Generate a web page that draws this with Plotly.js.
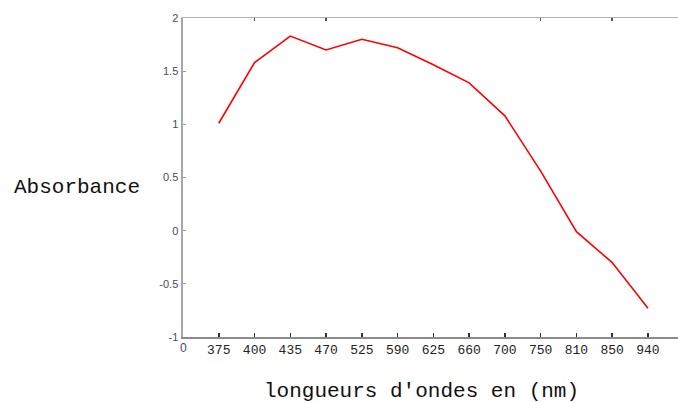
<!DOCTYPE html>
<html>
<head>
<meta charset="utf-8">
<script src="https://cdn.plot.ly/plotly-3.0.1.min.js"></script>
<style>
  html, body { margin: 0; padding: 0; background: #fff; }
  #chart { width: 678px; height: 403px; }
</style>
</head>
<body>
<div id="chart"></div>
<script>
// Absorbance spectrum, one value per wavelength band
const wavelengths = ['375', '400', '435', '470', '525', '590', '625', '660', '700', '750', '810', '850', '940'];
const absorbance  = [1.01, 1.58, 1.83, 1.70, 1.80, 1.72, 1.56, 1.39, 1.08, 0.56, -0.01, -0.30, -0.73];
const yTicks = [-1, -0.5, 0, 0.5, 1, 1.5, 2];
const yTickText = ['-1', '-0.5', '0', '0.5', '1', '1.5', '2'];

// wavelengths are plotted at evenly spaced positions 1..N
const positions = wavelengths.map((_, i) => i + 1);

const mono = 'Liberation Mono, Courier New, monospace';
const sans = 'Liberation Sans, Arial, sans-serif';

const trace = {
  x: positions,
  y: absorbance,
  type: 'scatter',
  mode: 'lines',
  line: { color: '#ff0000', width: 1.6 },
  hoverinfo: 'skip'
};

// top border with a few tick marks
const topTrace = {
  x: [0], y: [2], xaxis: 'x2', yaxis: 'y',
  type: 'scatter', mode: 'markers', marker: { opacity: 0 }, hoverinfo: 'skip'
};

const layout = {
  width: 678,
  height: 403,
  margin: { l: 183, r: 0, t: 18, b: 66 },
  paper_bgcolor: '#ffffff',
  plot_bgcolor: '#ffffff',
  showlegend: false,
  xaxis: {
    range: [0, 13.84],
    tickmode: 'array',
    tickvals: positions,
    ticktext: wavelengths,
    ticks: 'inside',
    ticklen: 4,
    tickwidth: 1.5,
    tickcolor: '#333',
    showgrid: false,
    zeroline: false,
    showline: true,
    linecolor: '#8c8c8c',
    linewidth: 1.5,
    tickfont: { family: mono, size: 13, color: '#222' },
    fixedrange: true
  },
  xaxis2: {
    overlaying: 'x',
    side: 'top',
    range: [0, 13.84],
    tickmode: 'array',
    tickvals: [2, 4, 10, 12],
    ticktext: ['', '', '', ''],
    ticks: 'inside',
    ticklen: 3,
    tickwidth: 1.5,
    tickcolor: '#555',
    showgrid: false,
    zeroline: false,
    showline: true,
    linecolor: '#b4b4b4',
    linewidth: 1.5,
    fixedrange: true
  },
  yaxis: {
    range: [-1, 2],
    tickmode: 'array',
    tickvals: yTicks,
    ticktext: yTickText,
    ticks: 'inside',
    ticklen: 3,
    tickwidth: 1,
    tickcolor: '#999',
    showgrid: false,
    zeroline: false,
    showline: true,
    linecolor: '#a6a6a6',
    linewidth: 2.5,
    tickfont: { family: sans, size: 11, color: '#4a4a5a' },
    fixedrange: true
  },
  annotations: [
    {
      text: '0', xref: 'paper', yref: 'paper', x: 0, y: 0, yshift: -11,
      xanchor: 'center', yanchor: 'middle',
      showarrow: false, font: { family: sans, size: 12, color: '#4a4a5a' }
    },
    {
      text: "longueurs d'ondes en (nm)", xref: 'paper', yref: 'paper',
      x: 0.481, y: 0, yshift: -54, xanchor: 'center', yanchor: 'middle',
      showarrow: false, font: { family: mono, size: 21, color: '#111' }
    },
    {
      text: 'Absorbance', xref: 'paper', yref: 'paper',
      x: 0, xshift: -171, y: 0.47, xanchor: 'left', yanchor: 'middle',
      showarrow: false, font: { family: mono, size: 21, color: '#111' }
    }
  ]
};

Plotly.newPlot('chart', [trace, topTrace], layout, { displayModeBar: false, staticPlot: true });
</script>
</body>
</html>
